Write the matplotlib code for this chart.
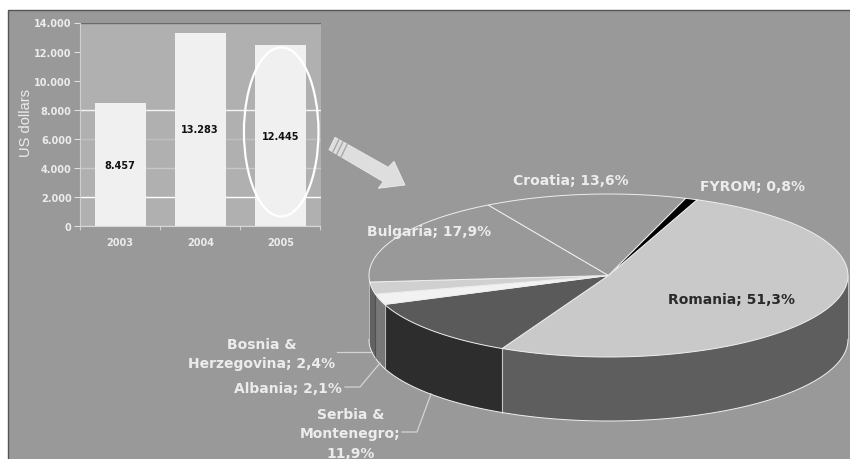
import numpy as np
import matplotlib
matplotlib.use('Agg')
import matplotlib.pyplot as plt
from matplotlib.patches import Ellipse, Polygon, Rectangle

W, H = 850, 460

years = ['2003', '2004', '2005']
income = [8457, 13283, 12445]
income_labels = ['8.457', '13.283', '12.445']
y_ticks = [0, 2000, 4000, 6000, 8000, 10000, 12000, 14000]
y_labels = ['0', '2.000', '4.000', '6.000', '8.000', '10.000', '12.000', '14.000']
grid_colors = ['#d0d0d0', '#ffffff', '#c8c8c8', '#c0c0c0', '#f4f4f4', '#b0b0b0', '#b0b0b0', '#6a6a6a']

countries = ['Romania', 'Serbia & Montenegro', 'Albania', 'Bosnia & Herzegovina',
             'Bulgaria', 'Croatia', 'FYROM']
shares = [51.3, 11.9, 2.1, 2.4, 17.9, 13.6, 0.8]
top_colors = ['#c9c9c9', '#5a5a5a', '#f2f2f2', '#d0d0d0', '#999999', '#999999', '#000000']
side_colors = ['#5e5e5e', '#2d2d2d', '#787878', '#626262', '#626262', '#999999', '#000000']
side_edges = ['#c8c8c8', '#b8b8b8', '#505050', '#626262', '#c8c8c8', '#c8c8c8', '#c8c8c8']

PANEL = '#999999'
TEXT = '#ececec'

# pie geometry in pixels
cx, cy, rx, ry, depth = 608.5, 276.5, 239.5, 81.5, 64
start_angle = 68.3


def arc(t1, t2, dy=0):
    t = np.radians(np.linspace(t1, t2, 80))
    return np.column_stack([cx + rx * np.cos(t), cy + dy - ry * np.sin(t)])


def draw_pie(ax):
    edges = start_angle - np.cumsum([0] + shares) * 3.6

    # side walls first, only the front half of the pie shows
    for i in range(len(shares)):
        t1, t2 = edges[i], edges[i + 1]
        a, b = max(min(t1, 0), -180), max(min(t2, 0), -180)
        if a - b <= 0:
            continue
        pts = np.vstack([arc(a, b), arc(b, a, depth)])
        ax.add_patch(Polygon(pts, closed=True, fc=side_colors[i], ec='none', zorder=2))
        ax.plot(*arc(a, b, depth).T, color='#f0f0f0', lw=0.7, zorder=3)
        if b > -180:
            x, y = arc(b, b)[0]
            ax.plot([x, x], [y, y + depth], color=side_edges[i], lw=0.8, zorder=3)
    for t in [0, -180]:
        x, y = arc(t, t)[0]
        ax.plot([x, x], [y, y + depth], color='#c8c8c8', lw=0.6, zorder=3)

    # top face
    for i in range(len(shares)):
        pts = np.vstack([[cx, cy], arc(edges[i], edges[i + 1])])
        ax.add_patch(Polygon(pts, closed=True, fc=top_colors[i], ec='#eeeeee', lw=0.7, zorder=4))


def draw_arrow(ax):
    tail_top, tail_bot = (335, 138.3), (329, 150.7)
    body = [tail_top, (388.3, 168.3), (394, 162.3), (405, 186),
            (378.3, 189.3), (383.3, 182.7), tail_bot]
    ax.add_patch(Polygon(body, closed=True, fc='#dedede', ec='#ececec', lw=0.6, zorder=2))
    for d in [4.5, 9, 14]:
        ax.plot([tail_top[0] + 0.87 * d, tail_bot[0] + 0.87 * d],
                [tail_top[1] + 0.5 * d, tail_bot[1] + 0.5 * d],
                color='#a8a8a8', lw=1.0, zorder=3)


def draw_labels(ax):
    style = dict(ha='center', va='center', fontsize=10, fontweight='bold', color=TEXT, zorder=6)
    ax.text(731.5, 300, 'Romania; 51,3%', **{**style, 'color': '#2a2a2a'})
    ax.text(571, 181.5, 'Croatia; 13,6%', **style)
    ax.text(752.5, 187, 'FYROM; 0,8%', **style)
    ax.text(429, 232, 'Bulgaria; 17,9%', **style)
    ax.text(262, 354.5, 'Bosnia &\nHerzegovina; 2,4%', linespacing=1.47, **style)
    ax.text(288, 389, 'Albania; 2,1%', **style)
    ax.text(350.5, 434.5, 'Serbia &\nMontenegro;\n11,9%', linespacing=1.47, **style)

    lead = dict(color='#d4d4d4', lw=0.9, zorder=5)
    ax.plot([337, 372], [352.7, 352.7], **lead)
    ax.plot([345, 360, 380], [388, 388, 364], **lead)
    ax.plot([402, 417, 431], [433, 433, 395], **lead)


def draw_bars(ax):
    x = np.arange(len(years))
    ax.set_facecolor('#b0b0b0')
    for v, c in zip(y_ticks, grid_colors):
        ax.axhline(v, color=c, lw=1.0, zorder=1)
    ax.bar(x, income, width=0.635, color='#f0f0f0', zorder=2)
    for xi, v, lab in zip(x, income, income_labels):
        ax.text(xi, v / 2, lab, ha='center', va='center', fontsize=7, fontweight='bold',
                color='#111111', zorder=3)

    ax.set_xlim(-0.5, 2.5)
    ax.set_ylim(0, 14000)
    ax.set_yticks(y_ticks)
    ax.set_yticklabels(y_labels, fontsize=7, fontweight='bold', color=TEXT)
    ax.set_xticks(x)
    ax.set_xticklabels(years, fontsize=7, fontweight='bold', color=TEXT)
    ax.set_xticks([-0.5, 0.5, 1.5, 2.5], minor=True)
    ax.tick_params(axis='x', which='major', length=0, pad=8)
    ax.tick_params(axis='x', which='minor', length=3, color='#d0d0d0', width=0.8)
    ax.tick_params(axis='y', length=4, color='#e0e0e0', width=0.8, pad=2)
    for s in ['top', 'right']:
        ax.spines[s].set_visible(False)
    ax.spines['left'].set_color('#d0d0d0')
    ax.spines['bottom'].set_color('#d8d8d8')
    ax.set_ylabel('US dollars', fontsize=10.5, family='Liberation Sans', color=TEXT)
    ax.yaxis.set_label_coords(-0.197, 0.511)

    # highlight round the last bar
    ax.add_patch(Ellipse((2.01, 6470), 0.93, 11630, fc='none', ec='#ffffff', lw=1.6,
                         zorder=4, clip_on=False))


def main():
    fig = plt.figure(figsize=(W / 100, H / 100), dpi=100, facecolor='white')

    bg = fig.add_axes([0, 0, 1, 1])
    bg.set_xlim(0, W)
    bg.set_ylim(H, 0)
    bg.axis('off')
    bg.add_patch(Rectangle((8, 11), W, H, fc=PANEL, ec='#555555', lw=1.0, zorder=0))
    draw_pie(bg)
    draw_arrow(bg)
    draw_labels(bg)

    ax = fig.add_axes([80 / W, (H - 227) / H, 240.5 / W, 203.5 / H])
    draw_bars(ax)

    fig.savefig('out.png', dpi=100, facecolor='white')


if __name__ == '__main__':
    main()
